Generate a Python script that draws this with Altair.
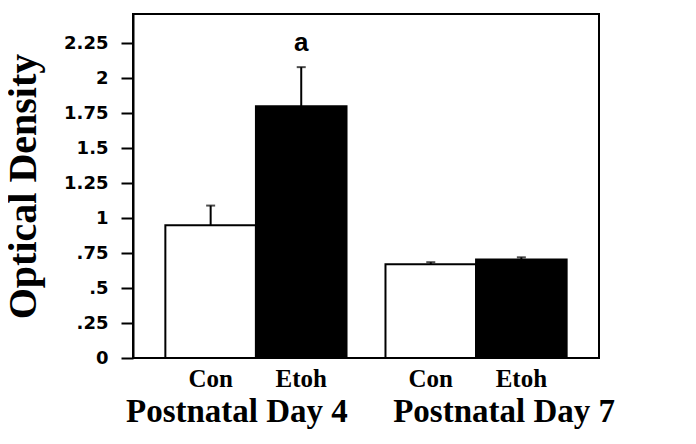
import altair as alt
import pandas as pd

days = ["Postnatal Day 4", "Postnatal Day 4", "Postnatal Day 7", "Postnatal Day 7"]
groups = ["Con", "Etoh", "Con", "Etoh"]
means = [0.95, 1.80, 0.67, 0.705]
errs = [0.14, 0.28, 0.015, 0.015]
fills = ["white", "black", "white", "black"]
y_ticks = [0, 0.25, 0.5, 0.75, 1, 1.25, 1.5, 1.75, 2, 2.25]
sig_labels = ["", "a", "", ""]

df = pd.DataFrame({"day": days, "grp": groups, "mean": means, "err": errs,
                   "fill": fills, "sig": sig_labels})
df["top"] = df["mean"] + df["err"]

W, H = 466, 344
serif = "Liberation Serif"

x_enc = alt.X("day:N", sort=["Postnatal Day 4", "Postnatal Day 7"],
              scale=alt.Scale(paddingInner=0.177, paddingOuter=0.147),
              axis=None)
xo_enc = alt.XOffset("grp:N", sort=["Con", "Etoh"],
                     scale=alt.Scale(paddingInner=0, paddingOuter=0))
y_scale = alt.Scale(domain=[0, 2.46], nice=False, zero=True)

y_axis = alt.Axis(values=y_ticks, format=".2~f", labelOverlap=False,
                  labelExpr="datum.value > 0 && datum.value < 1 ? substring(datum.label, 1) : datum.label",
                  title="Optical Density", titleFont=serif, titleFontSize=40,
                  titleFontWeight="bold", titleColor="black",
                  titleAngle=270, titleAlign="center", titleBaseline="middle",
                  titleX=-110, titleY=H / 2,
                  labelFont="DejaVu Sans", labelFontWeight="bold",
                  labelFontSize=18, labelColor="black", labelPadding=13,
                  tickSize=12, tickWidth=2, tickColor="black",
                  domain=True, domainColor="black", domainWidth=2,
                  grid=False)

base = alt.Chart(df)

bars = base.mark_bar(stroke="black", strokeWidth=2).encode(
    x=x_enc, xOffset=xo_enc,
    y=alt.Y("mean:Q", scale=y_scale, axis=y_axis),
    fill=alt.Fill("fill:N", scale=None),
)

err_rule = base.mark_rule(color="black", strokeWidth=2).encode(
    x=x_enc, xOffset=xo_enc,
    y=alt.Y("mean:Q", scale=y_scale, axis=y_axis), y2="top:Q",
)

caps = base.mark_tick(color="black", thickness=2, size=9).encode(
    x=x_enc, xOffset=xo_enc,
    y=alt.Y("top:Q", scale=y_scale, axis=y_axis),
)

sig = base.mark_text(font="Liberation Sans", fontWeight="bold", fontSize=26,
                     color="black", dy=-24, baseline="middle").encode(
    x=x_enc, xOffset=xo_enc,
    y=alt.Y("top:Q", scale=y_scale, axis=y_axis), text="sig:N",
)

grp_lbl = base.mark_text(font=serif, fontWeight="bold", fontSize=25,
                         color="black", baseline="middle").encode(
    x=x_enc, xOffset=xo_enc, y=alt.value(H + 21), text="grp:N",
)

day_df = pd.DataFrame({"day": ["Postnatal Day 4", "Postnatal Day 7"]})
day4 = alt.Chart(day_df).transform_filter("datum.day == 'Postnatal Day 4'").mark_text(
    font=serif, fontWeight="bold", fontSize=33, color="black", baseline="middle", dx=-19
).encode(x=x_enc, y=alt.value(H + 54), text="day:N")
day7 = alt.Chart(day_df).transform_filter("datum.day == 'Postnatal Day 7'").mark_text(
    font=serif, fontWeight="bold", fontSize=33, color="black", baseline="middle", dx=28
).encode(x=x_enc, y=alt.value(H + 54), text="day:N")

chart = alt.layer(bars, err_rule, caps, sig, grp_lbl, day4, day7).properties(
    width=W, height=H,
    autosize=alt.AutoSizeParams(type="none"),
    padding={"left": 125, "top": 6, "right": 80, "bottom": 78},
    background="white",
).configure_view(stroke="black", strokeWidth=2)

chart.save("out.html", embed_options={"renderer": "svg", "actions": False})
